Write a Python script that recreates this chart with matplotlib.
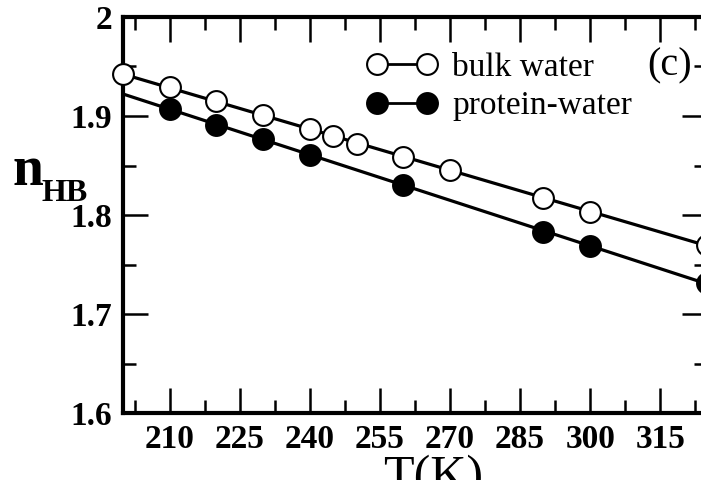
import numpy as np
import matplotlib
matplotlib.use("Agg")
import matplotlib.pyplot as plt
from matplotlib.ticker import MultipleLocator

# data
bulk_T = [200, 210, 220, 230, 240, 245, 250, 260, 270, 290, 300, 325]
bulk_n = [1.942, 1.929, 1.915, 1.901, 1.887, 1.880, 1.872, 1.859, 1.845, 1.817, 1.803, 1.770]
prot_T = [210, 220, 230, 240, 260, 290, 300, 325]
prot_n = [1.907, 1.891, 1.877, 1.861, 1.830, 1.783, 1.769, 1.731]
x_ticks = [210, 225, 240, 255, 270, 285, 300, 315]
y_ticks = [1.6, 1.7, 1.8, 1.9, 2.0]
y_ticklabels = ["1.6", "1.7", "1.8", "1.9", "2"]

W, H = 701, 480
fig = plt.figure(figsize=(W / 100, H / 100), dpi=100)
serif = ["Liberation Serif", "DejaVu Serif"]
plt.rcParams["font.family"] = serif

L, R, T, B = 123, 707, 17, 413
ax = fig.add_axes([L / W, 1 - B / H, (R - L) / W, (B - T) / H])
ax.set_xlim(200, 325)
ax.set_ylim(1.6, 2.0)

# fit lines
xx = np.array([200, 325])
pb = np.polyfit(bulk_T, bulk_n, 1)
pp = np.polyfit(prot_T, prot_n, 1)
ax.plot(xx, np.polyval(pb, xx), color="black", lw=2.3, zorder=2, clip_on=False)
ax.plot(xx, np.polyval(pp, xx), color="black", lw=2.3, zorder=2, clip_on=False)

MS = 15
ax.plot(bulk_T, bulk_n, "o", ms=MS, mfc="white", mec="black", mew=1.5, zorder=3, clip_on=False)
ax.plot(prot_T, prot_n, "o", ms=MS, mfc="black", mec="black", mew=1.5, zorder=3, clip_on=False)

# legend proxies
hb, = ax.plot([], [], "-o", color="black", lw=2.0, ms=MS, mfc="white", mec="black", mew=1.5)
hp, = ax.plot([], [], "-o", color="black", lw=2.0, ms=MS, mfc="black", mec="black", mew=1.5)
leg = ax.legend([hb, hp], ["bulk water", "protein-water"], numpoints=2, frameon=False,
                loc="upper left", bbox_to_anchor=(367 / W, 1 - 52 / H), bbox_transform=fig.transFigure,
                borderpad=0, borderaxespad=0, handlelength=2.1, handletextpad=0.45,
                labelspacing=0.25, prop={"family": serif, "size": 24})

ax.set_xticks(x_ticks)
ax.set_yticks(y_ticks)
ax.set_yticklabels(y_ticklabels)
ax.xaxis.set_minor_locator(MultipleLocator(7.5))
ax.yaxis.set_minor_locator(MultipleLocator(0.05))
ax.tick_params(which="both", direction="in", top=True, right=True, width=1.8)
ax.tick_params(which="major", length=18, pad=8, labelsize=24)
ax.tick_params(which="minor", length=9.5)
for lab in ax.get_xticklabels() + ax.get_yticklabels():
    lab.set_fontweight("bold")
for s in ax.spines.values():
    s.set_linewidth(3)

# axis labels
fig.text(12 / W, 1 - 185 / H, "n", fontsize=40, fontweight="bold", family=serif, ha="left", va="baseline")
fig.text(42 / W, 1 - 201 / H, "HB", fontsize=23, fontweight="bold", family=serif, ha="left", va="baseline")
fig.text(433 / W, 1 - 490 / H, "T(K)", fontsize=36, family=serif, ha="center", va="baseline")
fig.text(670 / W, 1 - 66 / H, "(c)", fontsize=29, family=serif, ha="center", va="center")

fig.savefig("out.png", dpi=100)
